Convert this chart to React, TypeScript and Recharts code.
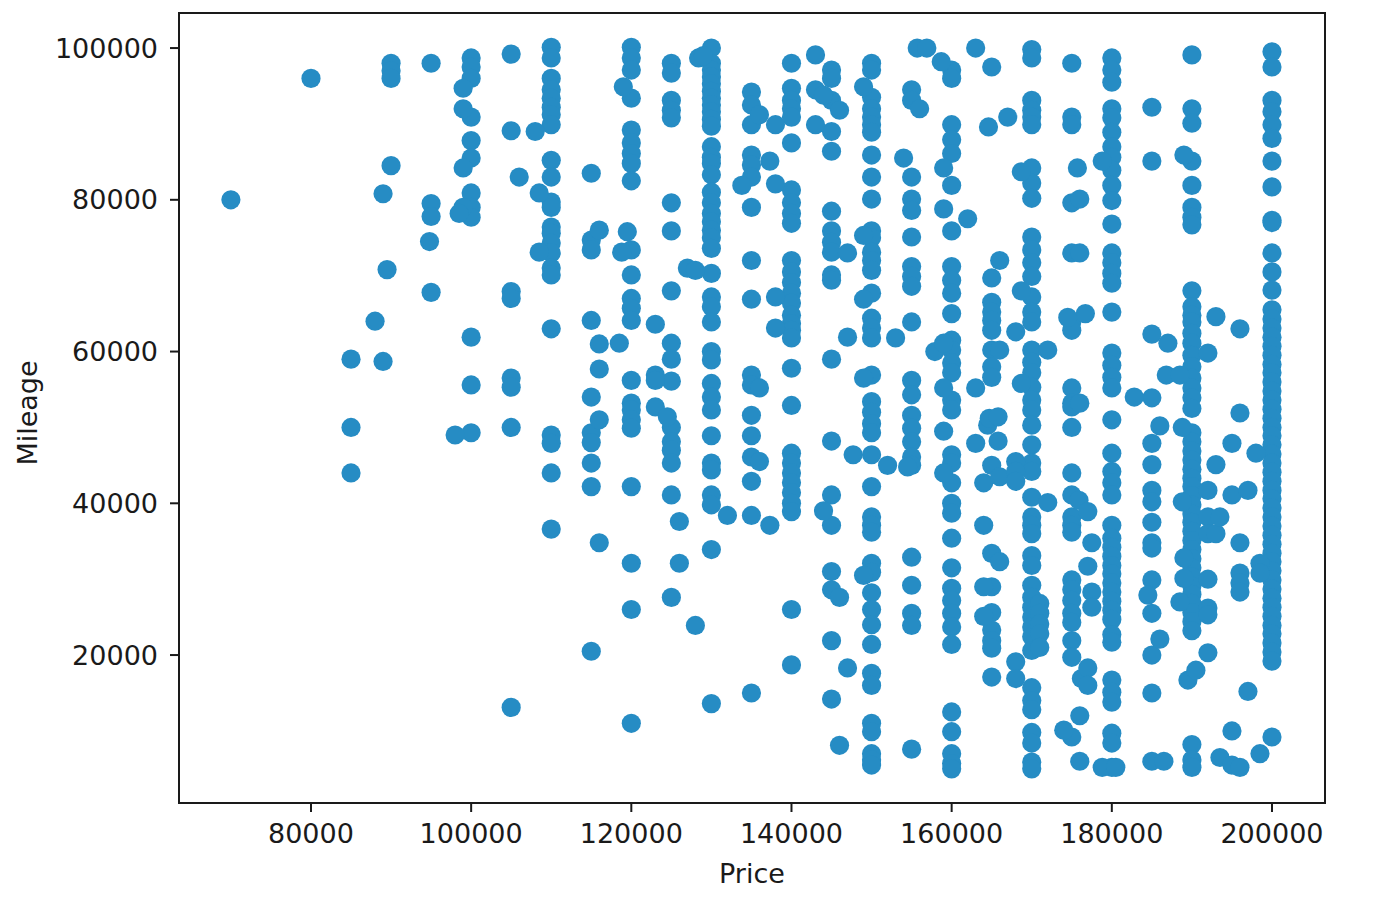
import { ReferenceArea, Scatter, ScatterChart, XAxis, YAxis } from "recharts";

const xTicks = [80000, 100000, 120000, 140000, 160000, 180000, 200000];
const yTicks = [20000, 40000, 60000, 80000, 100000];

const mileage85k = [59000, 50000, 44000];
const mileage90k = [98000, 97000, 96000, 84500];
const mileage95k = [98000, 79500, 77800, 67800];
const mileage100k = [98700, 97500, 96000, 90900, 87800, 85500, 80900, 79000, 77700, 61900, 55600, 49300];
const mileage105k = [99200, 89100, 67900, 67000, 56500, 55300, 50000, 13100];
const mileage110k = [100100, 98700, 96000, 94500, 93400, 92200, 91200, 89900, 85200, 83000, 79700, 79000, 76400, 75600, 74300, 73000, 71000, 70100, 63000, 49000, 47900, 44000, 36600];
const mileage115k = [83500, 74700, 73400, 64100, 54000, 49300, 48000, 45300, 42200, 20500];
const mileage120k = [100100, 98700, 97100, 93400, 89200, 87500, 86100, 84800, 82500, 73400, 70100, 67000, 65700, 64100, 56200, 53200, 52300, 51000, 49900, 42200, 32100, 26000, 11000];
const mileage125k = [98000, 96700, 93100, 91800, 90800, 79600, 75900, 68000, 61100, 59000, 56100, 50000, 48100, 47000, 45300, 41100, 27600];
const mileage130k = [100000, 98000, 97100, 96200, 95300, 94300, 93400, 92500, 91600, 90600, 89700, 87000, 85600, 84800, 83300, 81000, 79600, 78200, 77100, 76000, 75000, 73600, 70300, 67200, 65900, 63900, 60000, 58900, 55800, 54000, 52300, 48900, 45300, 44400, 41100, 39800, 33900, 13600];
const mileage135k = [94200, 92500, 89900, 85900, 84600, 83000, 79000, 72000, 66900, 56900, 55600, 51600, 48900, 46100, 42900, 38400, 15000];
const mileage140k = [98000, 94700, 93100, 92000, 90900, 87500, 81300, 79600, 78200, 76900, 72000, 70500, 69100, 67700, 66400, 64800, 63700, 62800, 61800, 57800, 52900, 46600, 45300, 44000, 42700, 41400, 40000, 38900, 26000, 18700];
const mileage145k = [97100, 96000, 93100, 89000, 86400, 78500, 75900, 74400, 73100, 70100, 69400, 59000, 48200, 41100, 37100, 31000, 28600, 21900, 14200];
const mileage150k = [98000, 97100, 93500, 92000, 90900, 89900, 88900, 85900, 83000, 80100, 75900, 75000, 73100, 72000, 70700, 67700, 64400, 63100, 61800, 56900, 53400, 52000, 50500, 49300, 46400, 42200, 38200, 37100, 36200, 32100, 30900, 28200, 26000, 24000, 21400, 17600, 16000, 11000, 9900, 7000, 6200, 5500];
const mileage155k = [94500, 93100, 83000, 80100, 78600, 75100, 71200, 69900, 68600, 63900, 56200, 54300, 51600, 49900, 48100, 46100, 45000, 32900, 29200, 25500, 23900, 7600];
const mileage160k = [97100, 96000, 89900, 87900, 86100, 81900, 75900, 71200, 69400, 67700, 65000, 61500, 60200, 58500, 57200, 53600, 52300, 46400, 45300, 42700, 40000, 38700, 35400, 31500, 28800, 27200, 25500, 23700, 21400, 12500, 9900, 7000, 5700, 5000];
const mileage165k = [97500, 69700, 66500, 65200, 64100, 62800, 60200, 58000, 56600, 45000, 33400, 29000, 25600, 23300, 21900, 20900, 17100];
const mileage170k = [99800, 98700, 93100, 91800, 90900, 89900, 84200, 82200, 80200, 75100, 73400, 71700, 69900, 67200, 65200, 63900, 60200, 58600, 57200, 55300, 53600, 52300, 50300, 47700, 45300, 44200, 40800, 38200, 37100, 36000, 33100, 31800, 29200, 27600, 26300, 25000, 23700, 22400, 20600, 15700, 14000, 12800, 9800, 8400, 5900, 5000];
const mileage171k = [26800, 25500, 24100, 22800, 21000];
const mileage175k = [98000, 90900, 89900, 79600, 73000, 63900, 62800, 55200, 53200, 52700, 50000, 44000, 41100, 38200, 37100, 36200, 29900, 28600, 27200, 25500, 24300, 21900, 19700, 9200];
const mileage180k = [98700, 97100, 95500, 92000, 90800, 88900, 87000, 85600, 83900, 81900, 79900, 76800, 73000, 71700, 70300, 69000, 65200, 59800, 58200, 56600, 55200, 51000, 46600, 44200, 42700, 41100, 37100, 35400, 34200, 33000, 31800, 30700, 29500, 28300, 27100, 25900, 24700, 22700, 21700, 16700, 15100, 13800, 9700, 8400, 5200];
const mileage185k = [92200, 85100, 62300, 53900, 47900, 45100, 41700, 40200, 37500, 34800, 34100, 29900, 25500, 20000, 15000, 6000];
const mileage190k = [99100, 92000, 90100, 85100, 81900, 79000, 77700, 76700, 68000, 65900, 64800, 63900, 62400, 61100, 59500, 58000, 56500, 55200, 53900, 52500, 49300, 48100, 46900, 45700, 44500, 43300, 42200, 41000, 39800, 38600, 37500, 36300, 35100, 33900, 32700, 31500, 30300, 29100, 28000, 26800, 25600, 24400, 23200, 8200, 6200, 5200];
const mileage192k = [59800, 41700, 38200, 36000, 30000, 26200, 25300, 20300];
const mileage200k = [99500, 97500, 93100, 91600, 89900, 88100, 85100, 81700, 77300, 77000, 73000, 70500, 68100, 65500, 64300, 63100, 61900, 60700, 59500, 58300, 57200, 56000, 54800, 53600, 52400, 51200, 50000, 48900, 47700, 46500, 45300, 44100, 42900, 41700, 40600, 39400, 38200, 37000, 35800, 34600, 33400, 32300, 31100, 29900, 28700, 27500, 26300, 25100, 23900, 22800, 21600, 20400, 19200, 9200];

// points that sit between the round prices
const loosePrices = [70000, 80000, 89000, 94800, 89500, 88000, 89000, 98000, 99000, 99000, 99000, 99000, 98500, 106000, 108000, 108500, 108500, 116000, 116000, 116000, 116000, 116000, 119000, 119500, 118800, 118500, 123000, 123000, 123000, 123000, 124500, 126000, 126000, 128000, 127000, 128000, 128400, 129000, 132000, 133800, 136000, 136000, 136000, 137300, 137300, 138000, 138000, 138000, 138000, 143000, 143000, 143000, 144000, 144000, 147000, 147000, 147000, 146000, 146000, 146000, 147700, 152000, 153000, 154000, 154500, 155700, 156000, 156900, 157900, 158700, 159000, 159000, 159000, 159000, 159000, 159000, 149000, 149000, 149000, 149000, 149000, 162000, 163000, 163000, 163000, 164000, 164000, 164000, 164000, 164500, 164600, 164700, 165800, 165800, 166000, 166000, 166000, 166000, 167000, 168000, 168000, 168000, 168000, 168000, 168000, 168700, 168700, 168700, 172000, 172000, 174000, 174500, 175700, 176000, 176000, 176000, 176000, 176000, 175900, 176200, 176700, 177000, 177000, 177000, 177000, 177500, 177500, 177500, 178800, 178800, 180500, 182800, 186000, 186000, 186500, 187000, 186800, 184500, 188500, 188500, 188800, 188800, 189000, 189000, 189000, 189500, 190500, 193000, 193000, 193000, 193500, 193500, 195000, 195000, 195000, 195000, 196000, 196000, 196000, 196000, 196000, 196000, 196000, 197000, 197000, 198000, 198500, 198500, 198500];
const looseMileages = [80000, 96000, 80800, 74500, 70800, 64000, 58700, 49000, 94700, 92000, 84200, 79000, 78200, 83000, 89000, 80900, 73100, 76000, 61000, 57700, 51000, 34800, 94900, 75800, 73100, 61100, 63600, 56900, 56200, 52700, 51400, 37600, 32100, 23900, 71000, 70700, 98700, 99000, 38400, 81900, 91200, 55200, 45500, 85100, 37100, 89900, 82100, 67200, 63100, 99100, 94500, 89900, 93800, 39000, 73000, 61900, 18300, 91800, 27600, 8100, 46400, 45000, 61800, 85500, 44800, 100000, 92000, 100000, 60000, 98200, 84200, 78800, 61100, 55200, 49500, 44000, 94900, 75300, 66900, 56500, 30500, 77500, 100000, 55200, 47900, 37100, 29000, 25100, 42700, 50300, 89600, 51200, 51400, 48200, 72000, 60200, 43500, 32300, 90900, 62600, 45500, 44200, 42900, 19100, 16900, 83700, 68000, 55800, 60200, 40100, 10100, 64500, 84200, 80100, 73000, 53200, 12000, 6000, 40400, 16900, 65000, 38900, 31700, 18300, 16000, 34800, 28300, 26300, 85100, 5200, 5200, 54000, 50200, 22100, 6000, 61100, 56900, 27900, 56900, 27000, 50000, 40200, 85900, 32800, 30100, 16700, 18000, 64600, 45100, 36000, 38200, 6500, 47900, 41100, 10000, 5500, 63000, 51900, 34800, 30800, 29500, 28300, 5200, 15200, 41700, 46600, 32100, 30800, 7000];

const columns: [number, number[]][] = [
  [85000, mileage85k],
  [90000, mileage90k],
  [95000, mileage95k],
  [100000, mileage100k],
  [105000, mileage105k],
  [110000, mileage110k],
  [115000, mileage115k],
  [120000, mileage120k],
  [125000, mileage125k],
  [130000, mileage130k],
  [135000, mileage135k],
  [140000, mileage140k],
  [145000, mileage145k],
  [150000, mileage150k],
  [155000, mileage155k],
  [160000, mileage160k],
  [165000, mileage165k],
  [170000, mileage170k],
  [171000, mileage171k],
  [175000, mileage175k],
  [180000, mileage180k],
  [185000, mileage185k],
  [190000, mileage190k],
  [192000, mileage192k],
  [200000, mileage200k],
];

const points = [
  ...columns.flatMap(([price, mileages]) => mileages.map((mileage) => ({ price, mileage }))),
  ...loosePrices.map((price, i) => ({ price, mileage: looseMileages[i] })),
];

const xDomain = [63520, 206620];
const yDomain = [500, 104620];
const ink = "#1a1a1a";
const font = { fontFamily: "DejaVu Sans", fontSize: 27, fill: ink };

export default function App() {
  return (
    <div style={{ position: "absolute", left: 0, top: 0, background: "#fff" }}>
      <ScatterChart width={1378} height={904} margin={{ top: 13, right: 53, bottom: 0, left: 0 }}>
        <XAxis
          type="number"
          dataKey="price"
          domain={xDomain}
          ticks={xTicks}
          interval={0}
          height={101}
          tick={font}
          tickSize={9}
          tickMargin={12}
          stroke={ink}
          strokeWidth={2}
          label={{ value: "Price", position: "insideBottom", offset: 21, style: font }}
        />
        <YAxis
          type="number"
          dataKey="mileage"
          domain={yDomain}
          ticks={yTicks}
          interval={0}
          width={179}
          tick={font}
          tickSize={9}
          tickMargin={12}
          stroke={ink}
          strokeWidth={2}
          label={{ value: "Mileage", angle: -90, position: "insideLeft", offset: 27, dy: 5, style: { ...font, textAnchor: "middle" } }}
        />
        <ReferenceArea x1={xDomain[0]} x2={xDomain[1]} y1={yDomain[0]} y2={yDomain[1]} fill="none" stroke={ink} strokeWidth={2} />
        <Scatter
          data={points}
          isAnimationActive={false}
          shape={(p: any) => <circle cx={p.cx} cy={p.cy} r={9.6} fill="#268cc4" />}
        />
      </ScatterChart>
    </div>
  );
}
